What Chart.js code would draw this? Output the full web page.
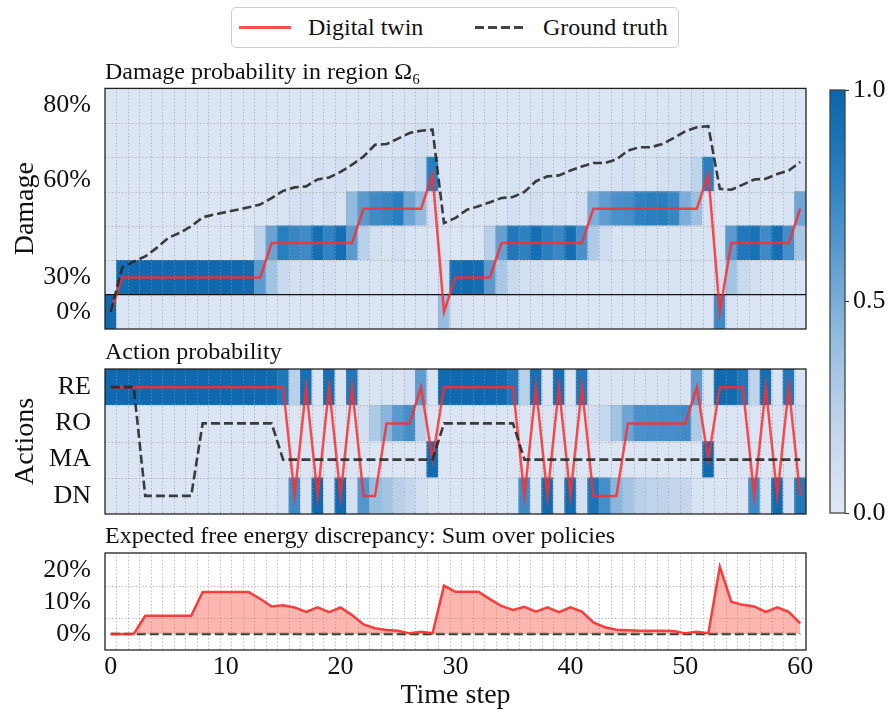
<!DOCTYPE html>
<html>
<head>
<meta charset="utf-8">
<script src="https://cdn.jsdelivr.net/npm/chart.js@4.4.1/dist/chart.umd.min.js"></script>
<style>
  html, body { margin: 0; padding: 0; background: #fff; }
  body { width: 890px; height: 712px; position: relative; overflow: hidden; font-family: 'Liberation Serif', 'Times New Roman', serif; color: #111; }
  canvas { position: absolute; }
  #legend { position: absolute; left: 231px; top: 7px; width: 448px; height: 41px; box-sizing: border-box;
            border: 1px solid #cfcfcf; border-radius: 5px; background: #fff; }
  #legend .swatch { position: absolute; top: 18px; height: 3px; }
  #legend .lbl { position: absolute; top: 0; line-height: 38px; font-size: 24px; white-space: nowrap; }
</style>
</head>
<body>
<div id="legend">
  <span class="swatch" style="left:7px;width:52px;background:rgba(255,50,50,0.85)"></span>
  <span class="lbl" style="left:76px">Digital twin</span>
  <span class="swatch" style="left:243px;width:49px;background:repeating-linear-gradient(to right,#444 0 9px,transparent 9px 13px)"></span>
  <span class="lbl" style="left:311px">Ground truth</span>
</div>
<canvas id="damage" width="815" height="282" style="left:0;top:50px"></canvas>
<canvas id="actions" width="815" height="185" style="left:0;top:332px"></canvas>
<canvas id="efe" width="815" height="195" style="left:0;top:517px"></canvas>
<canvas id="cbar" width="75" height="445" style="left:815px;top:80px"></canvas>
<script>
// ---- data ----
const timeSteps = [0,1,2,3,4,5,6,7,8,9,10,11,12,13,14,15,16,17,18,19,20,21,22,23,24,25,26,27,28,29,
  30,31,32,33,34,35,36,37,38,39,40,41,42,43,44,45,46,47,48,49,50,51,52,53,54,55,56,57,58,59,60];

const damageTickPos = [0, 1, 3.82, 6];
const damageTickLabels = ['0%', '30%', '60%', '80%'];
const actionLabels = ['DN', 'MA', 'RO', 'RE'];
const efeTickPos = [0, 10, 20];
const efeTickLabels = ['0%', '10%', '20%'];
const timeTicks = [0, 10, 20, 30, 40, 50, 60];
const colorbarTicks = [0, 0.5, 1];

// damage state index estimated by the digital twin (0 = 0%, 1 = 30%, ...)
const twinDamage = [0,1,1,1,1,1,1,1,1,1, 1,1,1,1,2,2,2,2,2,2, 2,2,3,3,3,3,3,3,4,0,
  1,1,1,1,2,2,2,2,2,2, 2,2,3,3,3,3,3,3,3,3, 3,3,4,0,2,2,2,2,2,2, 3];
const trueDamage = [0,1.29,1.46,1.61,1.86,2.15,2.30,2.49,2.75,2.83,
  2.90,2.97,3.04,3.12,3.31,3.52,3.62,3.65,3.85,3.91,
  4.07,4.28,4.52,4.86,4.88,5.04,5.20,5.27,5.30,2.58,
  2.73,2.97,3.07,3.19,3.31,3.34,3.49,3.80,3.94,3.97,
  4.11,4.23,4.33,4.33,4.43,4.69,4.79,4.79,4.88,5.06,
  5.25,5.37,5.40,3.58,3.55,3.70,3.85,3.87,4.01,4.11,
  4.36];

// action index: 0 = DN, 1 = MA, 2 = RO, 3 = RE
const twinAction = [3,3,3,3,3,3,3,3,3,3, 3,3,3,3,3,3,0,3,0,3, 0,3,0,0,2,2,2,3,1,3,
  3,3,3,3,3,3,0,3,0,3, 0,3,0,0,0,2,2,2,2,2, 2,3,1,3,3,3,0,3,0,3, 0];
const trueAction = [3,3,3,0,0,0,0,0,2,2, 2,2,2,2,2,1,1,1,1,1, 1,1,1,1,1,1,1,1,1,2,
  2,2,2,2,2,2,1,1,1,1, 1,1,1,1,1,1,1,1,1,1, 1,1,1,1,1,1,1,1,1,1, 1];

// expected free energy discrepancy, %
const efeTwin = [0,0,0,5.7,5.7,5.7,5.7,5.7,13.1,13.1,
  13.1,13.1,13.1,11.0,8.6,9.0,8.3,6.9,8.3,6.8,
  8.3,5.9,3.0,1.8,1.25,1.0,0.2,0.7,0.2,15.1,
  13.2,13.2,13.2,10.9,8.75,7.5,8.5,7.0,8.3,6.8,
  8.3,7.0,3.6,2.1,1.35,1.15,1.0,1.0,1.0,0.9,
  0.2,0.7,0.2,21.0,10.1,9.1,8.6,6.9,8.3,6.9,
  3.3];
const efeTrue = [0,0,0,0,0,0,0,0,0,0, 0,0,0,0,0,0,0,0,0,0, 0,0,0,0,0,0,0,0,0,0,
  0,0,0,0,0,0,0,0,0,0, 0,0,0,0,0,0,0,0,0,0, 0,0,0,0,0,0,0,0,0,0, 0];

// damage probabilities per state (rows of the heatmap)
const damageP0 = [0.95,0.02,0.02,0.02,0.02,0.02,0.02,0.02,0.02,0.02,
  0.02,0.02,0.02,0.02,0.02,0.02,0.02,0.02,0.02,0.02,
  0.02,0.02,0.02,0.02,0.02,0.02,0.02,0.02,0.03,0.40,
  0.05,0.02,0.02,0.02,0.02,0.02,0.02,0.02,0.02,0.02,
  0.02,0.02,0.02,0.02,0.02,0.02,0.02,0.02,0.02,0.02,
  0.02,0.02,0.03,0.72,0.05,0.02,0.02,0.02,0.02,0.02, 0.02];
const damageP30 = [0.03,0.93,0.96,0.96,0.96,0.96,0.96,0.96,0.96,0.96,
  0.96,0.96,0.95,0.62,0.35,0.15,0.08,0.10,0.06,0.08,
  0.05,0.06,0.04,0.04,0.04,0.04,0.04,0.04,0.03,0.10,
  0.92,0.95,0.93,0.62,0.32,0.15,0.08,0.10,0.06,0.04,
  0.04,0.04,0.04,0.04,0.04,0.04,0.04,0.04,0.04,0.04,
  0.04,0.04,0.03,0.10,0.35,0.15,0.10,0.06,0.04,0.04, 0.04];
const damageP40 = [0.02,0.02,0.02,0.02,0.02,0.02,0.02,0.02,0.02,0.02,
  0.02,0.02,0.02,0.22,0.57,0.80,0.75,0.72,0.92,0.77,
  0.92,0.62,0.25,0.10,0.06,0.08,0.05,0.04,0.03,0.04,
  0.02,0.02,0.03,0.25,0.58,0.85,0.78,0.92,0.80,0.74,
  0.92,0.68,0.30,0.12,0.05,0.04,0.04,0.04,0.04,0.04,
  0.04,0.04,0.04,0.04,0.62,0.85,0.90,0.72,0.92,0.70, 0.32];
const damageP50 = [0.02,0.02,0.02,0.02,0.02,0.02,0.02,0.02,0.02,0.02,
  0.02,0.02,0.02,0.02,0.04,0.05,0.08,0.10,0.06,0.10,
  0.06,0.42,0.62,0.72,0.75,0.80,0.55,0.42,0.08,0.02,
  0.02,0.02,0.03,0.04,0.05,0.08,0.06,0.10,0.05,0.08,
  0.05,0.10,0.50,0.60,0.68,0.70,0.78,0.80,0.80,0.75,
  0.50,0.38,0.06,0.02,0.03,0.03,0.04,0.03,0.03,0.04, 0.55];
const damageP60 = [0.02,0.02,0.02,0.02,0.02,0.02,0.02,0.02,0.02,0.02,
  0.02,0.02,0.02,0.03,0.05,0.06,0.08,0.06,0.08,0.06,
  0.08,0.06,0.08,0.08,0.06,0.08,0.10,0.15,0.80,0.03,
  0.02,0.02,0.03,0.04,0.05,0.06,0.05,0.08,0.06,0.05,
  0.06,0.05,0.06,0.06,0.06,0.08,0.06,0.06,0.08,0.10,
  0.12,0.22,0.80,0.03,0.02,0.03,0.04,0.03,0.04,0.05, 0.06];
const damageP70 = [0.02,0.02,0.02,0.02,0.02,0.02,0.02,0.02,0.02,0.02,
  0.02,0.02,0.02,0.02,0.02,0.03,0.02,0.03,0.02,0.03,
  0.02,0.03,0.04,0.05,0.04,0.05,0.06,0.10,0.06,0.02,
  0.02,0.02,0.02,0.02,0.02,0.02,0.02,0.03,0.02,0.02,
  0.02,0.02,0.03,0.03,0.04,0.04,0.04,0.05,0.05,0.06,
  0.06,0.08,0.05,0.02,0.02,0.02,0.02,0.02,0.02,0.02, 0.02];
const damageP80 = [0.02,0.02,0.02,0.02,0.02,0.02,0.02,0.02,0.02,0.02,
  0.02,0.02,0.02,0.02,0.02,0.02,0.02,0.02,0.02,0.02,
  0.02,0.02,0.02,0.03,0.02,0.03,0.03,0.04,0.03,0.02,
  0.02,0.02,0.02,0.02,0.02,0.02,0.02,0.02,0.02,0.02,
  0.02,0.02,0.02,0.02,0.02,0.03,0.02,0.03,0.03,0.03,
  0.04,0.04,0.03,0.02,0.02,0.02,0.02,0.02,0.02,0.02, 0.02];

// action probabilities
const probRE = [0.96,0.96,0.96,0.96,0.96,0.96,0.96,0.96,0.96,0.96,
  0.96,0.96,0.96,0.96,0.95,0.85,0.25,0.92,0.04,0.92,
  0.04,0.85,0.04,0.04,0.05,0.05,0.08,0.60,0.04,0.95,
  0.96,0.96,0.96,0.96,0.95,0.85,0.25,0.92,0.04,0.92,
  0.04,0.85,0.04,0.04,0.04,0.04,0.04,0.04,0.04,0.04,
  0.05,0.60,0.04,0.95,0.95,0.85,0.22,0.92,0.04,0.85, 0.04];
const probRO = [0.02,0.02,0.02,0.02,0.02,0.02,0.02,0.02,0.02,0.02,
  0.02,0.02,0.02,0.02,0.02,0.02,0.02,0.02,0.02,0.02,
  0.02,0.02,0.10,0.30,0.45,0.62,0.70,0.25,0.02,0.02,
  0.02,0.02,0.02,0.02,0.02,0.02,0.02,0.02,0.02,0.02,
  0.02,0.02,0.10,0.18,0.35,0.55,0.68,0.70,0.70,0.70,
  0.72,0.30,0.02,0.03,0.03,0.03,0.03,0.03,0.03,0.03, 0.10];
const probMA = [0.02,0.02,0.02,0.02,0.02,0.02,0.02,0.02,0.02,0.02,
  0.02,0.02,0.02,0.02,0.02,0.02,0.02,0.02,0.02,0.02,
  0.02,0.02,0.02,0.02,0.02,0.02,0.02,0.02,0.95,0.02,
  0.02,0.02,0.02,0.02,0.02,0.02,0.02,0.02,0.02,0.02,
  0.02,0.02,0.02,0.02,0.02,0.02,0.02,0.02,0.02,0.02,
  0.02,0.02,0.95,0.02,0.02,0.02,0.02,0.02,0.02,0.02, 0.02];
const probDN = [0.02,0.02,0.02,0.02,0.02,0.02,0.02,0.02,0.02,0.02,
  0.02,0.02,0.02,0.02,0.02,0.05,0.72,0.04,0.95,0.04,
  0.95,0.08,0.65,0.40,0.35,0.25,0.20,0.08,0.02,0.02,
  0.02,0.02,0.02,0.02,0.02,0.05,0.72,0.04,0.95,0.04,
  0.95,0.08,0.88,0.70,0.45,0.35,0.25,0.22,0.22,0.20,
  0.20,0.05,0.02,0.02,0.02,0.02,0.72,0.05,0.95,0.08, 0.85];

// ---- styling ----
Chart.defaults.font.family = "'Liberation Serif', 'Times New Roman', serif";
Chart.defaults.color = '#111';
const RED = 'rgba(255,45,45,0.85)';
const DARK = 'rgba(40,40,40,0.9)';
const cmapStops = [[0, [223,231,245]], [0.2, [195,214,236]], [0.4, [150,190,224]],
                   [0.6, [95,157,209]], [0.8, [40,127,192]], [1, [8,100,172]]];

function cmap(v) {
  for (let i = 1; i < cmapStops.length; i++) {
    if (v <= cmapStops[i][0]) {
      const [a, ca] = cmapStops[i - 1], [b, cb] = cmapStops[i];
      const f = (v - a) / (b - a);
      const c = ca.map((k, j) => Math.round(k + (cb[j] - k) * f));
      return `rgb(${c[0]},${c[1]},${c[2]})`;
    }
  }
  return 'rgb(8,100,172)';
}

function heatRow(row, vals) {
  return {
    type: 'bar',
    data: timeSteps.map(t => ({ x: t, y: [row - 0.5, row + 0.5] })),
    backgroundColor: vals.map(cmap),
    borderWidth: 0, grouped: false, barPercentage: 1, categoryPercentage: 1, order: 5
  };
}

function lineSet(vals, color, dashed, order, extra) {
  return Object.assign({
    type: 'line',
    data: timeSteps.map((t, i) => ({ x: t, y: vals[i] })),
    borderColor: color, borderWidth: dashed ? 2.6 : 2.5, borderDash: dashed ? [9, 4] : [],
    pointRadius: 0, tension: 0, order: order, fill: false
  }, extra || {});
}

// gridlines go above the heatmap but under the lines, frame on top
const overGrid = {
  id: 'overGrid',
  beforeDraw(chart) { chart.$gridDone = false; },
  beforeDatasetDraw(chart, args, o) {
    if (chart.$gridDone || !o.xs) return;
    if (chart.data.datasets[args.index].type !== 'line') return;
    chart.$gridDone = true;
    const { ctx, chartArea: a, scales: { x, y } } = chart;
    ctx.save();
    ctx.strokeStyle = 'rgba(150,150,150,0.8)';
    ctx.lineWidth = 0.9;
    ctx.setLineDash([1.2, 2.2]);
    ctx.beginPath();
    o.xs.forEach(v => { const p = Math.round(x.getPixelForValue(v)) + 0.5; ctx.moveTo(p, a.top); ctx.lineTo(p, a.bottom); });
    o.ys.forEach(v => { const p = Math.round(y.getPixelForValue(v)) + 0.5; ctx.moveTo(a.left, p); ctx.lineTo(a.right, p); });
    ctx.stroke();
    if (o.solidYs) {
      ctx.setLineDash([]);
      ctx.strokeStyle = '#111';
      ctx.lineWidth = 1.3;
      ctx.beginPath();
      o.solidYs.forEach(v => { const p = y.getPixelForValue(v); ctx.moveTo(a.left, p); ctx.lineTo(a.right, p); });
      ctx.stroke();
    }
    ctx.restore();
  },
  afterDatasetsDraw(chart, args, o) {
    const { ctx, chartArea: a } = chart;
    ctx.save();
    ctx.strokeStyle = o.frame || '#222';
    ctx.lineWidth = 1.3;
    ctx.strokeRect(a.left, a.top, a.right - a.left, a.bottom - a.top);
    ctx.restore();
  }
};

const cellEdges = timeSteps.slice(1).map(t => t - 0.5);

function yAxis(min, max, tickPos, labelFn, title) {
  return {
    type: 'linear', min: min, max: max,
    afterBuildTicks: s => { s.ticks = tickPos.map(v => ({ value: v })); },
    ticks: { callback: labelFn, font: { size: 26 }, color: '#111', padding: 6, autoSkip: false },
    grid: { display: false }, border: { display: false },
    title: { display: true, text: title, font: { size: 28 }, color: '#111', padding: { top: 9, bottom: 0 } },
    afterFit: s => { s.width = 105; s.paddingTop = 0; s.paddingBottom = 0; }
  };
}

const timeAxisHidden = { type: 'linear', min: -0.5, max: 60.5, offset: false, display: false };

function panelTitle(text, padBottom) {
  return { display: true, text: text, align: 'start', fullSize: false, color: '#111',
           font: { size: 24, weight: 'normal' }, padding: { top: 0, bottom: padBottom } };
}

// ---- damage panel ----
new Chart(document.getElementById('damage'), {
  type: 'bar',
  data: {
    datasets: [
      lineSet(trueDamage, DARK, true, 0),
      lineSet(twinDamage, RED, false, 1),
      heatRow(0, damageP0), heatRow(1, damageP30), heatRow(2, damageP40), heatRow(3, damageP50),
      heatRow(4, damageP60), heatRow(5, damageP70), heatRow(6, damageP80)
    ]
  },
  options: {
    responsive: false, animation: false,
    layout: { padding: { left: 0, right: 9, top: 8.6, bottom: 3 } },
    plugins: {
      legend: { display: false }, tooltip: { enabled: false },
      title: panelTitle('Damage probability in region Ω₆', 1),
      overGrid: { xs: cellEdges, ys: [1.5, 2.5, 3.5, 4.5, 5.5], solidYs: [0.5] }
    },
    scales: {
      x: timeAxisHidden,
      y: yAxis(-0.5, 6.5, damageTickPos, (v, i) => damageTickLabels[i], 'Damage')
    }
  },
  plugins: [overGrid]
});

// ---- action panel ----
new Chart(document.getElementById('actions'), {
  type: 'bar',
  data: {
    datasets: [
      lineSet(trueAction, DARK, true, 0),
      lineSet(twinAction, RED, false, 1),
      heatRow(0, probDN), heatRow(1, probMA), heatRow(2, probRO), heatRow(3, probRE)
    ]
  },
  options: {
    responsive: false, animation: false,
    layout: { padding: { left: 0, right: 9, top: 6.6, bottom: 3 } },
    plugins: {
      legend: { display: false }, tooltip: { enabled: false },
      title: panelTitle('Action probability', 1.6),
      overGrid: { xs: cellEdges, ys: [0.5, 1.5, 2.5] }
    },
    scales: {
      x: timeAxisHidden,
      y: yAxis(-0.5, 3.5, [0, 1, 2, 3], v => actionLabels[v], 'Actions')
    }
  },
  plugins: [overGrid]
});

// ---- expected free energy panel ----
new Chart(document.getElementById('efe'), {
  type: 'line',
  data: {
    datasets: [
      lineSet(efeTwin, 'rgba(245,45,45,0.9)', false, 0, { fill: 'origin', backgroundColor: 'rgba(250,95,80,0.45)' }),
      lineSet(efeTrue, DARK, true, 1)
    ]
  },
  options: {
    responsive: false, animation: false,
    layout: { padding: { left: 0, right: 9, top: 5.6, bottom: 0 } },
    plugins: {
      legend: { display: false }, tooltip: { enabled: false },
      title: panelTitle('Expected free energy discrepancy: Sum over policies', 1.6),
      overGrid: { xs: cellEdges, ys: [5, 15] }
    },
    scales: {
      x: {
        type: 'linear', min: -0.5, max: 60.5, offset: false,
        afterBuildTicks: s => { s.ticks = timeTicks.map(v => ({ value: v })); },
        ticks: { font: { size: 26 }, color: '#111', padding: -6, autoSkip: false, maxRotation: 0 },
        grid: { display: false }, border: { display: false },
        title: { display: true, text: 'Time step', font: { size: 28 }, color: '#111', padding: { top: 0, bottom: 0 } },
        afterFit: s => { s.height = 62; s.paddingLeft = 0; s.paddingRight = 0; }
      },
      y: yAxis(-5, 25.3, efeTickPos, (v, i) => efeTickLabels[i], '')
    }
  },
  plugins: [overGrid]
});

// ---- colorbar ----
new Chart(document.getElementById('cbar'), {
  type: 'bar',
  data: {
    labels: [''],
    datasets: [{
      data: [[0, 1]],
      backgroundColor: c => {
        const a = c.chart.chartArea;
        if (!a) return cmap(0.5);
        const g = c.chart.ctx.createLinearGradient(0, a.bottom, 0, a.top);
        cmapStops.forEach(([p]) => g.addColorStop(p, cmap(p)));
        return g;
      },
      borderWidth: 0, barPercentage: 1, categoryPercentage: 1
    }]
  },
  options: {
    responsive: false, animation: false,
    layout: { padding: { left: 15, right: 0, top: 10, bottom: 12 } },
    plugins: { legend: { display: false }, tooltip: { enabled: false }, title: { display: false },
               overGrid: { frame: '#444' } },
    scales: {
      x: { display: false },
      y: {
        position: 'right', min: 0, max: 1,
        afterBuildTicks: s => { s.ticks = colorbarTicks.map(v => ({ value: v })); },
        ticks: { callback: v => v.toFixed(1), font: { size: 26 }, color: '#111', padding: 4 },
        grid: { drawOnChartArea: false, drawTicks: true, tickLength: 4, color: '#333', lineWidth: 1 },
        border: { display: false },
        afterFit: s => { s.width = 45; s.paddingTop = 0; s.paddingBottom = 0; }
      }
    }
  },
  plugins: [overGrid]
});
</script>
</body>
</html>
